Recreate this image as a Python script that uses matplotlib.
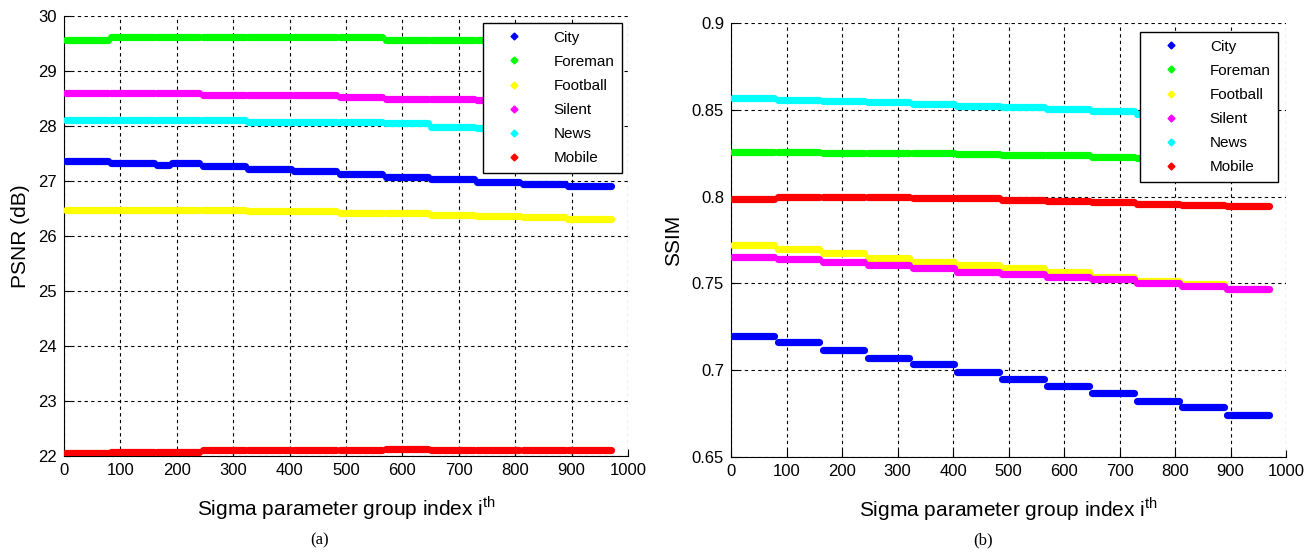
import numpy as np
import matplotlib
matplotlib.use('Agg')
from matplotlib import pyplot as plt
from matplotlib.lines import Line2D

plt.rcParams['font.family'] = ['Liberation Sans', 'DejaVu Sans']

# step boundaries along the sigma parameter group index
edges = [0, 81, 162, 243, 324, 405, 486, 567, 648, 729, 810, 891, 972]
city_psnr_edges = [0, 81, 162, 189, 243, 324, 405, 486, 567, 648, 729, 810, 891, 972]

names = ['City', 'Foreman', 'Football', 'Silent', 'News', 'Mobile']
colors = ['#0000ff', '#00ff00', '#ffff00', '#ff00ff', '#00ffff', '#ff0000']

# PSNR (dB) levels per step
psnr_city = [27.37, 27.33, 27.29, 27.32, 27.27, 27.22, 27.18, 27.12, 27.08, 27.04, 26.99, 26.95, 26.91]
psnr_foreman = [29.57, 29.61, 29.61, 29.61, 29.61, 29.61, 29.61, 29.57, 29.57, 29.56, 29.56, 29.55]
psnr_football = [26.47, 26.47, 26.47, 26.47, 26.45, 26.45, 26.42, 26.41, 26.39, 26.36, 26.34, 26.31]
psnr_silent = [28.60, 28.60, 28.60, 28.57, 28.57, 28.56, 28.53, 28.50, 28.50, 28.48, 28.46, 28.44]
psnr_news = [28.11, 28.11, 28.11, 28.11, 28.08, 28.07, 28.07, 28.05, 27.99, 27.97, 27.95, 27.93]
psnr_mobile = [22.05, 22.08, 22.08, 22.10, 22.10, 22.10, 22.10, 22.13, 22.10, 22.10, 22.10, 22.10]

# SSIM levels per step
ssim_city = [0.7197, 0.7161, 0.7117, 0.7073, 0.7036, 0.6992, 0.6948, 0.6906, 0.6868, 0.6824, 0.6787, 0.6743]
ssim_foreman = [0.8258, 0.8258, 0.8249, 0.8249, 0.8249, 0.8247, 0.8240, 0.8240, 0.8230, 0.8222, 0.8217, 0.8212]
ssim_football = [0.7720, 0.7697, 0.7676, 0.7648, 0.7625, 0.7605, 0.7586, 0.7565, 0.7538, 0.7513, 0.7494, 0.7466]
ssim_silent = [0.7653, 0.7638, 0.7623, 0.7605, 0.7586, 0.7567, 0.7552, 0.7538, 0.7523, 0.7500, 0.7485, 0.7467]
ssim_news = [0.8567, 0.8557, 0.8550, 0.8544, 0.8531, 0.8523, 0.8515, 0.8506, 0.8492, 0.8477, 0.8465, 0.8452]
ssim_mobile = [0.7985, 0.7995, 0.7995, 0.7995, 0.7990, 0.7990, 0.7983, 0.7976, 0.7968, 0.7960, 0.7953, 0.7943]

psnr_series = [(city_psnr_edges, psnr_city), (edges, psnr_foreman), (edges, psnr_football),
               (edges, psnr_silent), (edges, psnr_news), (edges, psnr_mobile)]
ssim_series = [(edges, ssim_city), (edges, ssim_foreman), (edges, ssim_football),
               (edges, ssim_silent), (edges, ssim_news), (edges, ssim_mobile)]


def draw_steps(ax, series):
    for (e, levels), c in zip(series, colors):
        for i, v in enumerate(levels):
            ax.plot([e[i] + 3, e[i + 1] - 3], [v, v], color=c, lw=5.2,
                    solid_capstyle='round', zorder=3)


def style_axes(ax, yticks, ylabels, ylim, ylabel, legend_anchor):
    ax.set_xlim(0, 1000)
    ax.set_ylim(*ylim)
    ax.set_xticks(range(0, 1001, 100))
    ax.set_yticks(yticks)
    ax.set_yticklabels(ylabels)
    ax.tick_params(direction='in', length=5, width=0.8, labelsize=12, pad=5)
    ax.grid(True, color='black', linestyle=(0, (3, 3)), linewidth=0.8)
    ax.set_axisbelow(True)
    ax.spines['top'].set_visible(False)
    ax.spines['right'].set_visible(False)
    ax.set_xlabel('Sigma parameter group index i$^{\\mathregular{th}}$', fontsize=15, labelpad=12)
    ax.set_ylabel(ylabel, fontsize=15, labelpad=6)
    handles = [Line2D([], [], color=c, marker='D', markersize=3.5, linestyle='none') for c in colors]
    leg = ax.legend(handles, names, loc='upper right', bbox_to_anchor=legend_anchor, fontsize=11,
                    frameon=True, fancybox=False, framealpha=1, edgecolor='black',
                    handlelength=3.1, handletextpad=1.0, labelspacing=0.66, borderpad=0.5,
                    borderaxespad=0)
    leg.get_frame().set_linewidth(1.0)
    leg.set_zorder(5)


fig = plt.figure(figsize=(13.15, 5.56), dpi=100)
ax1 = fig.add_axes([0.0487, 0.1799, 0.4289, 0.7913])
ax2 = fig.add_axes([0.5559, 0.1781, 0.4221, 0.7806])

draw_steps(ax1, psnr_series)
style_axes(ax1, range(22, 31), [str(v) for v in range(22, 31)], (22, 30), 'PSNR (dB)', (0.989, 0.984))

draw_steps(ax2, ssim_series)
ssim_ticks = [0.65, 0.7, 0.75, 0.8, 0.85, 0.9]
style_axes(ax2, ssim_ticks, ['0.65', '0.7', '0.75', '0.8', '0.85', '0.9'], (0.65, 0.9), 'SSIM', (0.986, 0.979))

fig.text(0.2433, 0.02, '(a)', fontsize=12, family='Liberation Serif', ha='center')
fig.text(0.7475, 0.02, '(b)', fontsize=12, family='Liberation Serif', ha='center')

fig.savefig('out.png', dpi=100)
